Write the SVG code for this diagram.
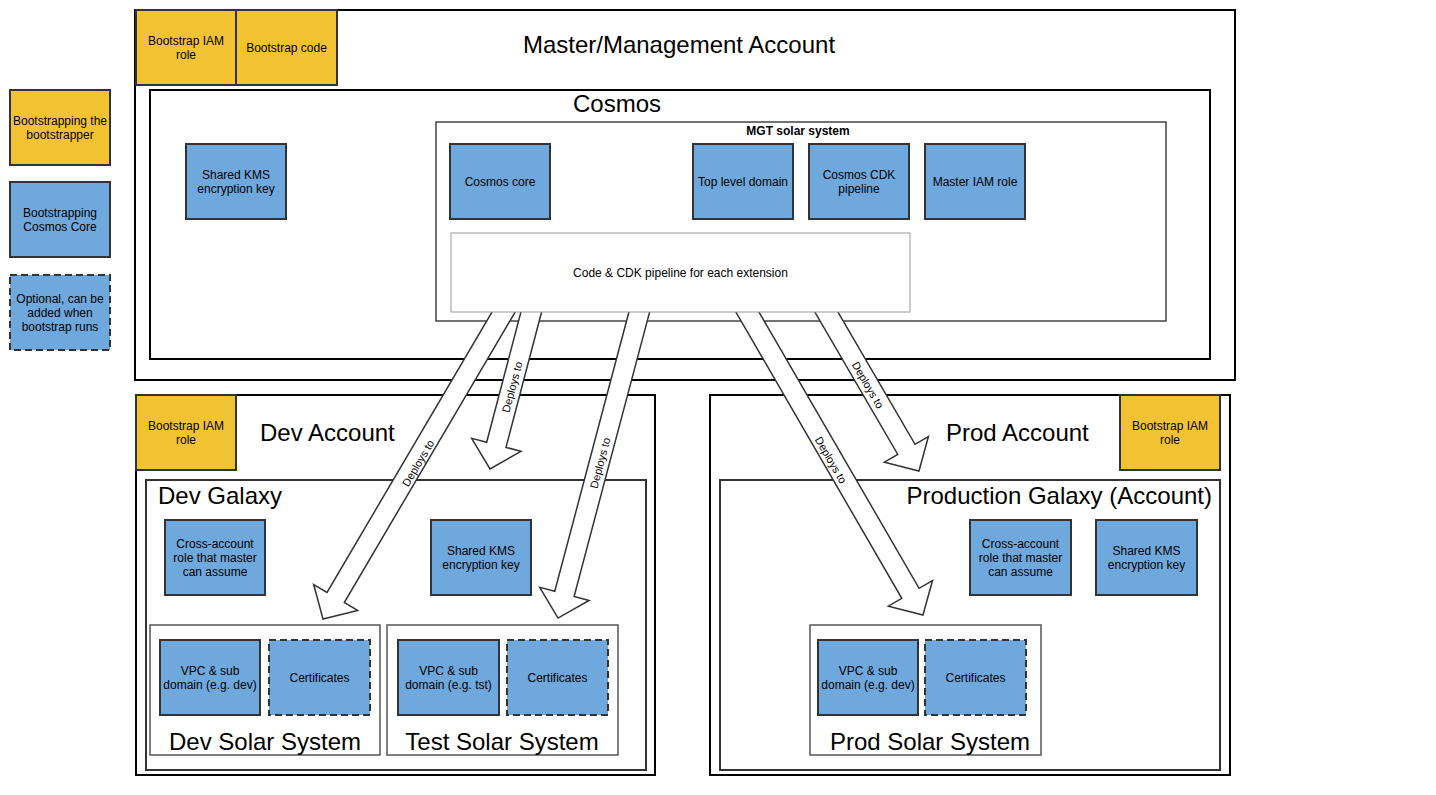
<svg xmlns="http://www.w3.org/2000/svg" width="1436" height="795" viewBox="0 0 1436 795">
<defs>
<style>
text{font-family:"Liberation Sans",Arial,Helvetica,sans-serif;fill:#000}
.t12{font-size:12px;text-anchor:middle;dominant-baseline:central}
.big{font-size:24px}
.mid{text-anchor:middle}
.yel{fill:#f1c232;stroke:#333;stroke-width:2}
.blu{fill:#6fa8dc;stroke:#333;stroke-width:2}
.opt{fill:#6fa8dc;stroke:#333;stroke-width:2;stroke-dasharray:7 4}
.acct{fill:#fff;stroke:#000;stroke-width:2}
.gal{fill:#fff;stroke:#333;stroke-width:2}
.sol{fill:#fff;stroke:#555;stroke-width:1.5}
.arr{fill:#fff;stroke:#333;stroke-width:1.5;stroke-linejoin:miter}
.lbl{font-size:11px;text-anchor:middle;dominant-baseline:central}
</style>
</defs>
<rect width="1436" height="795" fill="#fff"/>

<!-- Legend -->
<g id="legend-bootstrapper">
<rect class="yel" x="10" y="90" width="100" height="75"/>
<text class="t12" x="60" y="120.5">Bootstrapping the</text>
<text class="t12" x="60" y="134.5">bootstrapper</text>
</g>
<g id="legend-cosmos-core">
<rect class="blu" x="10" y="182" width="100" height="75"/>
<text class="t12" x="60" y="212.5">Bootstrapping</text>
<text class="t12" x="60" y="226.5">Cosmos Core</text>
</g>
<g id="legend-optional">
<rect class="opt" x="10" y="275" width="100" height="75"/>
<text class="t12" x="60" y="298.5">Optional, can be</text>
<text class="t12" x="60" y="312.5">added when</text>
<text class="t12" x="60" y="326.5">bootstrap runs</text>
</g>

<!-- Master account -->
<g id="master-account">
<rect class="acct" x="135" y="10" width="1100" height="370"/>
<text class="big mid" x="679" y="53">Master/Management Account</text>
</g>
<g id="master-bootstrap-iam">
<rect class="yel" x="136" y="10" width="100" height="75"/>
<text class="t12" x="186" y="40.5">Bootstrap IAM</text>
<text class="t12" x="186" y="54.5">role</text>
</g>
<g id="master-bootstrap-code">
<rect class="yel" x="236" y="10" width="101" height="75"/>
<text class="t12" x="286.5" y="47.5">Bootstrap code</text>
</g>
<g id="cosmos">
<rect class="acct" x="150" y="90" width="1060" height="269"/>
<text class="big mid" x="617" y="112">Cosmos</text>
</g>
<g id="cosmos-kms">
<rect class="blu" x="186" y="144" width="100" height="75"/>
<text class="t12" x="236" y="174.5">Shared KMS</text>
<text class="t12" x="236" y="188.5">encryption key</text>
</g>
<g id="mgt-solar-system">
<rect fill="#fff" stroke="#444" stroke-width="1.5" x="436" y="122" width="730" height="199"/>
<text x="798" y="135" font-size="12" font-weight="bold" text-anchor="middle">MGT solar system</text>
</g>
<g id="cosmos-core">
<rect class="blu" x="450" y="144" width="100" height="75"/>
<text class="t12" x="500" y="181.5">Cosmos core</text>
</g>
<g id="top-level-domain">
<rect class="blu" x="693" y="144" width="100" height="75"/>
<text class="t12" x="743" y="181.5">Top level domain</text>
</g>
<g id="cosmos-cdk-pipeline">
<rect class="blu" x="809" y="144" width="100" height="75"/>
<text class="t12" x="859" y="174.5">Cosmos CDK</text>
<text class="t12" x="859" y="188.5">pipeline</text>
</g>
<g id="master-iam-role">
<rect class="blu" x="925" y="144" width="100" height="75"/>
<text class="t12" x="975" y="181.5">Master IAM role</text>
</g>

<!-- Dev account -->
<g id="dev-account">
<rect class="acct" x="136" y="395" width="519" height="380"/>
<text class="big" x="260" y="441">Dev Account</text>
</g>
<g id="dev-bootstrap-iam">
<rect class="yel" x="136" y="395" width="100" height="75"/>
<text class="t12" x="186" y="425.5">Bootstrap IAM</text>
<text class="t12" x="186" y="439.5">role</text>
</g>
<g id="dev-galaxy">
<rect class="gal" x="146" y="480" width="500" height="290"/>
<text class="big" x="158" y="504">Dev Galaxy</text>
</g>
<g id="dev-cross-account">
<rect class="blu" x="165" y="520" width="100" height="75"/>
<text class="t12" x="215" y="543.5">Cross-account</text>
<text class="t12" x="215" y="557.5">role that master</text>
<text class="t12" x="215" y="571.5">can assume</text>
</g>
<g id="dev-kms">
<rect class="blu" x="431" y="520" width="100" height="75"/>
<text class="t12" x="481" y="550.5">Shared KMS</text>
<text class="t12" x="481" y="564.5">encryption key</text>
</g>
<g id="dev-solar-system">
<rect class="sol" x="150" y="625" width="230" height="130"/>
<text class="big mid" x="265" y="750">Dev Solar System</text>
</g>
<g id="dev-vpc">
<rect class="blu" x="160" y="640" width="100" height="75"/>
<text class="t12" x="210" y="670.5">VPC &amp; sub</text>
<text class="t12" x="210" y="684.5">domain (e.g. dev)</text>
</g>
<g id="dev-certificates">
<rect class="opt" x="269" y="640" width="101" height="75"/>
<text class="t12" x="319.5" y="677.5">Certificates</text>
</g>
<g id="test-solar-system">
<rect class="sol" x="387" y="625" width="231" height="130"/>
<text class="big mid" x="502" y="750">Test Solar System</text>
</g>
<g id="test-vpc">
<rect class="blu" x="398" y="640" width="101" height="75"/>
<text class="t12" x="448.5" y="670.5">VPC &amp; sub</text>
<text class="t12" x="448.5" y="684.5">domain (e.g. tst)</text>
</g>
<g id="test-certificates">
<rect class="opt" x="507" y="640" width="101" height="75"/>
<text class="t12" x="557.5" y="677.5">Certificates</text>
</g>

<!-- Prod account -->
<g id="prod-account">
<rect class="acct" x="710" y="395" width="520" height="380"/>
<text class="big" x="946" y="441">Prod Account</text>
</g>
<g id="prod-bootstrap-iam">
<rect class="yel" x="1120" y="395" width="100" height="75"/>
<text class="t12" x="1170" y="425.5">Bootstrap IAM</text>
<text class="t12" x="1170" y="439.5">role</text>
</g>
<g id="prod-galaxy">
<rect class="gal" x="720" y="480" width="500" height="290"/>
<text class="big" x="1212" y="504" text-anchor="end">Production Galaxy (Account)</text>
</g>
<g id="prod-cross-account">
<rect class="blu" x="970" y="520" width="101" height="75"/>
<text class="t12" x="1020.5" y="543.5">Cross-account</text>
<text class="t12" x="1020.5" y="557.5">role that master</text>
<text class="t12" x="1020.5" y="571.5">can assume</text>
</g>
<g id="prod-kms">
<rect class="blu" x="1096" y="520" width="101" height="75"/>
<text class="t12" x="1146.5" y="550.5">Shared KMS</text>
<text class="t12" x="1146.5" y="564.5">encryption key</text>
</g>
<g id="prod-solar-system">
<rect class="sol" x="810" y="625" width="231" height="130"/>
<text class="big mid" x="930" y="750">Prod Solar System</text>
</g>
<g id="prod-vpc">
<rect class="blu" x="818" y="640" width="100" height="75"/>
<text class="t12" x="868" y="670.5">VPC &amp; sub</text>
<text class="t12" x="868" y="684.5">domain (e.g. dev)</text>
</g>
<g id="prod-certificates">
<rect class="opt" x="925" y="640" width="101" height="75"/>
<text class="t12" x="975.5" y="677.5">Certificates</text>
</g>

<!-- Connectors -->
<g id="connectors">
<polygon class="arr" transform="translate(503 313) rotate(120.47)" points="-15,-10 330,-10 330,-25.5 355,0 330,25.5 330,10 -15,10"/>
<polygon class="arr" transform="translate(531 313) rotate(104.73)" points="-15,-10 136.3,-10 136.3,-25.5 161.3,0 136.3,25.5 136.3,10 -15,10"/>
<polygon class="arr" transform="translate(639 313) rotate(104.87)" points="-15,-10 290.6,-10 290.6,-25.5 315.6,0 290.6,25.5 290.6,10 -15,10"/>
<polygon class="arr" transform="translate(748 313) rotate(59.91)" points="-15,-10 324,-10 324,-25.5 349,0 324,25.5 324,10 -15,10"/>
<polygon class="arr" transform="translate(827 313) rotate(59.79)" points="-15,-10 157.8,-10 157.8,-25.5 182.8,0 157.8,25.5 157.8,10 -15,10"/>
<text class="lbl" transform="translate(418 463) rotate(-59.53)">Deploys to</text>
<text class="lbl" transform="translate(512 387) rotate(-75.27)">Deploys to</text>
<text class="lbl" transform="translate(600 463) rotate(-75.13)">Deploys to</text>
<text class="lbl" transform="translate(831 460) rotate(59.91)">Deploys to</text>
<text class="lbl" transform="translate(868 385) rotate(59.79)">Deploys to</text>
</g>

<g id="code-cdk-pipeline">
<rect fill="#fff" stroke="#999" stroke-width="1" x="451" y="233" width="459" height="79"/>
<text class="t12" x="680.5" y="272.5">Code &amp; CDK pipeline for each extension</text>
</g>
</svg>
